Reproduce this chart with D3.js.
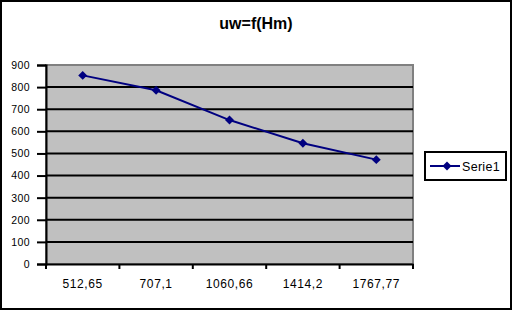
<!DOCTYPE html>
<meta charset="utf-8">
<html><head>
<title>uw=f(Hm)</title>
<style>
  body { margin: 0; background: #fff; }
  text { font-family: "Liberation Sans", Arial, sans-serif; }
</style>
</head><body>
<script src="https://cdn.jsdelivr.net/npm/d3@7"></script>
<script>

var categories = ["512,65", "707,1", "1060,66", "1414,2", "1767,77"];
var serie1 = [853, 786, 651, 546, 472];
var yTicks = [0, 100, 200, 300, 400, 500, 600, 700, 800, 900];
var seriesName = "Serie1";
var title = "uw=f(Hm)";

var width = 512,
    height = 310;

var svg = d3.select("body").append("svg")
    .attr("width", width)
    .attr("height", height);

// outer frame
svg.append("rect")
    .attr("x", 1).attr("y", 1)
    .attr("width", width - 2).attr("height", height - 2)
    .attr("fill", "#fff")
    .attr("stroke", "#000")
    .attr("stroke-width", 2);

var plot = {left: 46, right: 413, top: 65, bottom: 264};

var x = d3.scaleBand()
    .domain(categories)
    .range([plot.left, plot.right]);

var y = d3.scaleLinear()
    .domain([0, 900])
    .range([plot.bottom, plot.top]);

// plot area
svg.append("rect")
    .attr("x", plot.left).attr("y", plot.top)
    .attr("width", plot.right - plot.left)
    .attr("height", plot.bottom - plot.top)
    .attr("fill", "#c0c0c0")
    .attr("stroke", "#808080")
    .attr("stroke-width", 2);

// gridlines
svg.append("g")
    .selectAll("line")
    .data(yTicks.filter(function(d) { return d > 0 && d < 900; }))
    .enter().append("line")
    .attr("x1", plot.left).attr("x2", plot.right)
    .attr("y1", function(d) { return y(d); })
    .attr("y2", function(d) { return y(d); })
    .attr("stroke", "#000")
    .attr("stroke-width", 2);

// y axis
var yAxis = svg.append("g")
    .attr("transform", "translate(" + plot.left + ",0)")
    .call(d3.axisLeft(y).tickValues(yTicks).tickSize(9).tickPadding(7));
yAxis.select(".domain").attr("stroke", "#000").attr("stroke-width", 2);
yAxis.selectAll(".tick line").attr("stroke", "#000").attr("stroke-width", 2);
yAxis.selectAll("text").attr("font-size", 10.5).attr("fill", "#000")
    .attr("letter-spacing", 0.4)
    .attr("font-family", "Liberation Sans, Arial, sans-serif");

// x axis
var xAxis = svg.append("g")
    .attr("transform", "translate(0," + plot.bottom + ")")
    .call(d3.axisBottom(x).tickSize(0));
xAxis.select(".domain").attr("stroke", "#000").attr("stroke-width", 2);
xAxis.selectAll("text")
    .attr("y", 24).attr("dy", 0)
    .attr("font-size", 12).attr("fill", "#000")
    .attr("letter-spacing", 0.6)
    .attr("font-family", "Liberation Sans, Arial, sans-serif");

// category separator ticks
var boundaries = categories.map(function(c) { return x(c); }).concat([plot.right]);
svg.append("g")
    .selectAll("line")
    .data(boundaries)
    .enter().append("line")
    .attr("x1", function(d) { return d; })
    .attr("x2", function(d) { return d; })
    .attr("y1", plot.bottom)
    .attr("y2", plot.bottom + 5)
    .attr("stroke", "#000")
    .attr("stroke-width", 2);

// series line
var line = d3.line()
    .x(function(d, i) { return x(categories[i]) + x.bandwidth() / 2; })
    .y(function(d) { return y(d); });

svg.append("path")
    .datum(serie1)
    .attr("d", line)
    .attr("fill", "none")
    .attr("stroke", "#000080")
    .attr("stroke-width", 2);

var diamond = d3.symbol().type(d3.symbolSquare).size(40);

svg.append("g")
    .selectAll("path")
    .data(serie1)
    .enter().append("path")
    .attr("d", diamond)
    .attr("transform", function(d, i) {
        return "translate(" + (x(categories[i]) + x.bandwidth() / 2) + "," + y(d) + ") rotate(45)";
    })
    .attr("fill", "#000080");

// title
svg.append("text")
    .attr("x", 256)
    .attr("y", 29)
    .attr("text-anchor", "middle")
    .attr("font-size", 16)
    .attr("font-weight", "bold")
    .text(title);

// legend
var legend = svg.append("g");
legend.append("rect")
    .attr("x", 425).attr("y", 152)
    .attr("width", 81).attr("height", 28)
    .attr("fill", "#fff")
    .attr("stroke", "#000")
    .attr("stroke-width", 2);
legend.append("line")
    .attr("x1", 430).attr("x2", 460)
    .attr("y1", 166).attr("y2", 166)
    .attr("stroke", "#000080")
    .attr("stroke-width", 2);
legend.append("path")
    .attr("d", diamond)
    .attr("transform", "translate(447,166) rotate(45)")
    .attr("fill", "#000080");
legend.append("text")
    .attr("x", 462)
    .attr("y", 170.5)
    .attr("font-size", 12.5)
    .attr("letter-spacing", 0.3)
    .text(seriesName);

</script>
</body>
</html>
